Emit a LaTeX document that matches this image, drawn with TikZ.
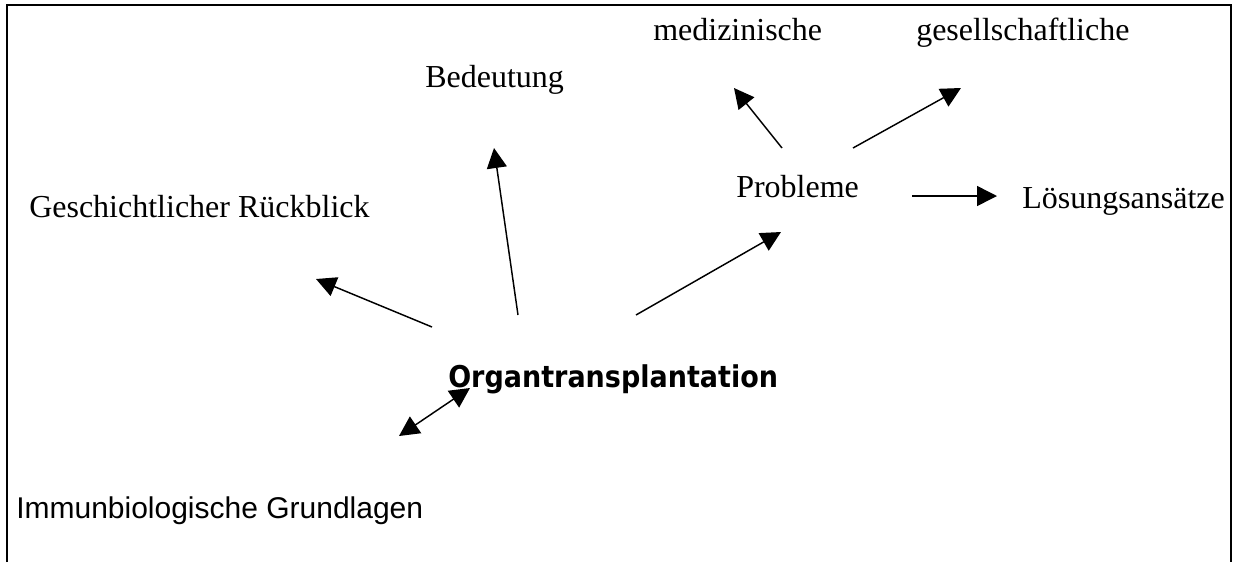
\documentclass[tikz,border=0pt]{standalone}
\usepackage{fontspec}
\setmainfont{Liberation Serif}
\newfontfamily\arialfont{Liberation Sans}
\newfontfamily\titlefont{DejaVu Sans Condensed}
\usetikzlibrary{arrows.meta}
\begin{document}
\begin{tikzpicture}[x=0.75pt,y=-0.75pt,
  lbl/.style={inner sep=0pt, anchor=base west, font=\fontsize{24}{28}\selectfont},
  sanslbl/.style={inner sep=0pt, anchor=base west, font=\arialfont\fontsize{22.5}{27}\selectfont},
  titlelbl/.style={inner sep=0pt, anchor=base west, font=\titlefont\bfseries\fontsize{22.5}{27}\selectfont},
  arr/.style={line width=1.1pt, -{Triangle[length=15pt,width=15pt]}},
  dblarr/.style={line width=1.1pt, {Triangle[length=15pt,width=15pt]}-{Triangle[length=15pt,width=15pt]}},
  frame/.style={line width=1.5pt}]
\useasboundingbox (0,0) rectangle (1236,562);
\draw[frame] (7,562) -- (7,5) -- (1231,5) -- (1231,562);

\node[lbl] (geschichte) at (29,217) {Geschichtlicher Rückblick};
\node[lbl] (bedeutung) at (425,87) {Bedeutung};
\node[lbl] (medizin) at (653,40) {medizinische};
\node[lbl] (gesell) at (916,40) {gesellschaftliche};
\node[lbl] (probleme) at (736,197) {Probleme};
\node[lbl] (loesung) at (1022,208) {Lösungsansätze};
\node[titlelbl] (organ) at (448,387) {Organtransplantation};
\node[sanslbl] (immun) at (16,518) {Immunbiologische Grundlagen};

% connector end points
\coordinate (oG) at (432,327);
\coordinate (gO) at (316,279);
\coordinate (oB) at (518,315);
\coordinate (bO) at (494,148);
\coordinate (oP) at (636,315);
\coordinate (pO) at (781,232);
\coordinate (pM) at (782,148);
\coordinate (mP) at (734,88);
\coordinate (pG) at (853,148);
\coordinate (gP) at (961,88);
\coordinate (pL) at (912,196);
\coordinate (lP) at (997,196);
\coordinate (iO) at (399,436);
\coordinate (oI) at (470,388);

\draw[arr] (oG) -- (gO);
\draw[arr] (oB) -- (bO);
\draw[arr] (oP) -- (pO);
\draw[arr] (pM) -- (mP);
\draw[arr] (pG) -- (gP);
\draw[arr] (pL) -- (lP);
\draw[dblarr] (iO) -- (oI);
\end{tikzpicture}
\end{document}
